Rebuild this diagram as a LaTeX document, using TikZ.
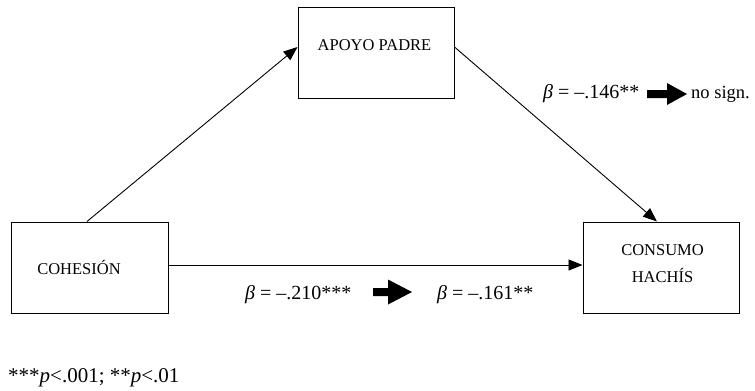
\documentclass[tikz,border=0pt]{standalone}
\usepackage{fontspec}
\setmainfont{Liberation Serif}
\usetikzlibrary{arrows.meta}
\begin{document}
\begin{tikzpicture}[x=1bp,y=-1bp,
  box/.style={draw, line width=1bp, minimum width=156bp, minimum height=91bp, inner sep=0},
  boxtext/.style={font=\fontsize{16.5bp}{27bp}\selectfont, align=center, inner sep=0},
  conn/.style={line width=0.9bp, -{Triangle[length=14bp,width=11bp]}},
  coef/.style={font=\fontsize{20bp}{24bp}\selectfont, inner sep=0, anchor=base west},
  note/.style={font=\fontsize{21bp}{25bp}\selectfont, inner sep=0, anchor=base west}
]
\useasboundingbox (0,0) rectangle (755,390);
% boxes
\node[box] (coh) at (90,267.5) {};
\node[box] (apoyo) at (376,52.5) {};
\node[box] (cons) at (661,267.5) {};
% box texts
\node[boxtext] (tcoh) at (79,267) {COHESIÓN};
\node[boxtext] (tapo) at (374.5,45) {APOYO PADRE};
\node[boxtext] (tcons) at (662.5,263.5) {CONSUMO\\HACHÍS};
% connectors
\draw[conn] ([xshift=-3bp]coh.north) -- ([yshift=5.5bp]apoyo.west);
\draw[conn] ([yshift=5.5bp]apoyo.east) -- ([xshift=-4bp]cons.north);
\draw[conn] ([yshift=2.5bp]coh.east) -- ([yshift=2.5bp]cons.west);
% coefficients
\node[coef] (b146) at (543,98) {\textit{β} = –.146**};
\node[coef, font=\fontsize{18.5bp}{22bp}\selectfont] (nosign) at (691,98) {no sign.};
\node[coef] (b210) at (245,299) {\textit{β} = –.210***};
\node[coef] (b161) at (437,299) {\textit{β} = –.161**};
% block arrows
\coordinate (fa1) at (647,94);
\fill (fa1) ++(0,-4) -- ++(20,0) -- ++(0,-7) -- ++(20,11) -- ++(-20,11) -- ++(0,-7) -- ++(-20,0) -- cycle;
\coordinate (fa2) at (373,292);
\fill (fa2) ++(0,-4) -- ++(15,0) -- ++(0,-8.5) -- ++(24,12.5) -- ++(-24,12.5) -- ++(0,-8.5) -- ++(-15,0) -- cycle;
% footnote
\node[note] (fn) at (8,382) {***\textit{p}<.001; **\textit{p}<.01};
\end{tikzpicture}
\end{document}
